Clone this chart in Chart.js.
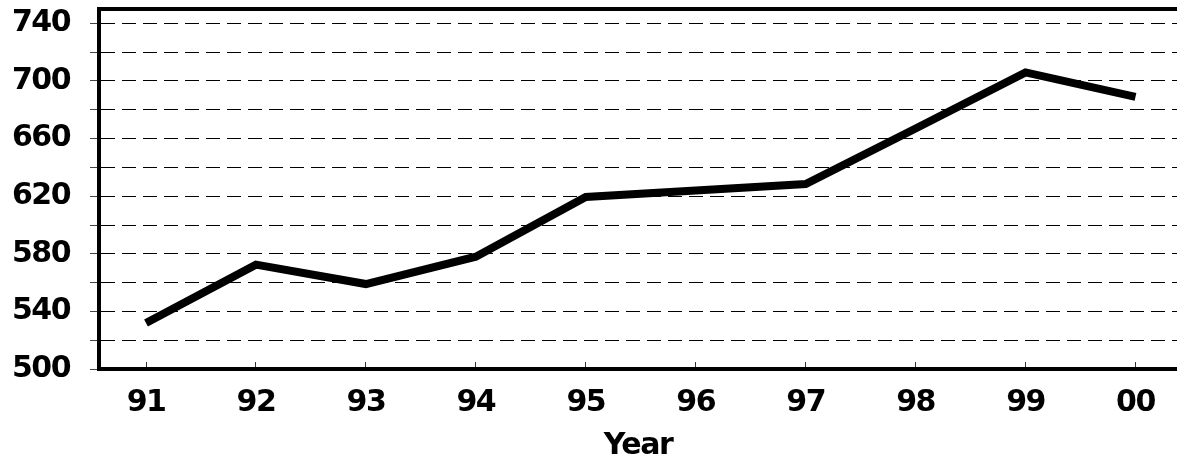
<!DOCTYPE html>
<html>
<head>
<meta charset="utf-8">
<script src="https://cdn.jsdelivr.net/npm/chart.js@4.4.0/dist/chart.umd.min.js"></script>
<style>
  html, body { margin: 0; padding: 0; background: #fff; }
  #wrap { width: 1177px; height: 459px; position: relative; }
</style>
</head>
<body>
<div id="wrap"><canvas id="chart"></canvas></div>
<script>
// data
const years = ['91', '92', '93', '94', '95', '96', '97', '98', '99', '00'];
const values = [532, 572.5, 559, 578, 619.5, 624, 628.5, 667, 706, 689];
const yTicks = [500, 520, 540, 560, 580, 600, 620, 640, 660, 680, 700, 720, 740];
const yLabels = ['500', '540', '580', '620', '660', '700', '740'];

const labelFont = { family: 'DejaVu Sans', weight: 'bold', size: 30, lineHeight: 1.2 };

// tight letter spacing like the original, plus a thick top border
const frame = {
    id: 'frame',
    beforeDraw(chart) {
        chart.ctx.letterSpacing = '-1.5px';
    },
    afterDraw(chart) {
        const { ctx, chartArea: a } = chart;
        ctx.save();
        ctx.strokeStyle = '#000';
        ctx.lineWidth = 4;
        ctx.beginPath();
        ctx.moveTo(a.left - 2, a.top);
        ctx.lineTo(a.right, a.top);
        ctx.stroke();
        ctx.restore();
    }
};

const ctx = document.getElementById('chart').getContext('2d');
new Chart(ctx, {
    type: 'line',
    data: {
        datasets: [{
            data: values.map((v, i) => ({ x: i, y: v })),
            borderColor: '#000',
            borderWidth: 8,
            pointRadius: 0,
            tension: 0,
            fill: false
        }]
    },
    options: {
        responsive: true,
        maintainAspectRatio: false,
        animation: false,
        layout: { padding: { top: 9, left: 0, right: 0, bottom: 0 } },
        plugins: {
            legend: { display: false },
            tooltip: { enabled: false }
        },
        scales: {
            x: {
                type: 'linear',
                min: -0.4275,
                max: 9.3775,
                afterBuildTicks: s => { s.ticks = years.map((_, i) => ({ value: i })); },
                afterFit: s => {
                    s.height = 90;
                    s.paddingLeft = 0;
                    s.paddingRight = 0;
                },
                grid: {
                    drawOnChartArea: false,
                    drawTicks: true,
                    tickLength: -7,
                    tickColor: '#333',
                    lineWidth: 1
                },
                border: { display: true, color: '#000', width: 4 },
                ticks: {
                    autoSkip: false,
                    maxRotation: 0,
                    padding: 23,
                    color: '#000',
                    font: labelFont,
                    callback: (v, i) => years[i]
                },
                title: {
                    display: true,
                    text: 'Year',
                    color: '#000',
                    padding: 0,
                    font: { family: 'DejaVu Sans', weight: 'bold', size: 30, lineHeight: 0.85 }
                }
            },
            y: {
                type: 'linear',
                min: 500,
                max: 750,
                afterBuildTicks: s => { s.ticks = yTicks.map(v => ({ value: v })); },
                afterFit: s => {
                    s.width = 99;
                    s.paddingTop = 0;
                    s.paddingBottom = 0;
                },
                grid: {
                    color: '#000',
                    lineWidth: 1,
                    drawTicks: true,
                    tickLength: 9,
                    tickColor: '#444',
                    tickBorderDash: []
                },
                border: { display: true, color: '#000', width: 4, dash: [14, 7] },
                ticks: {
                    autoSkip: false,
                    padding: 20,
                    color: '#000',
                    font: labelFont,
                    callback: v => (yLabels.includes(String(v)) ? String(v) : '')
                }
            }
        }
    },
    plugins: [frame]
});
</script>
</body>
</html>
